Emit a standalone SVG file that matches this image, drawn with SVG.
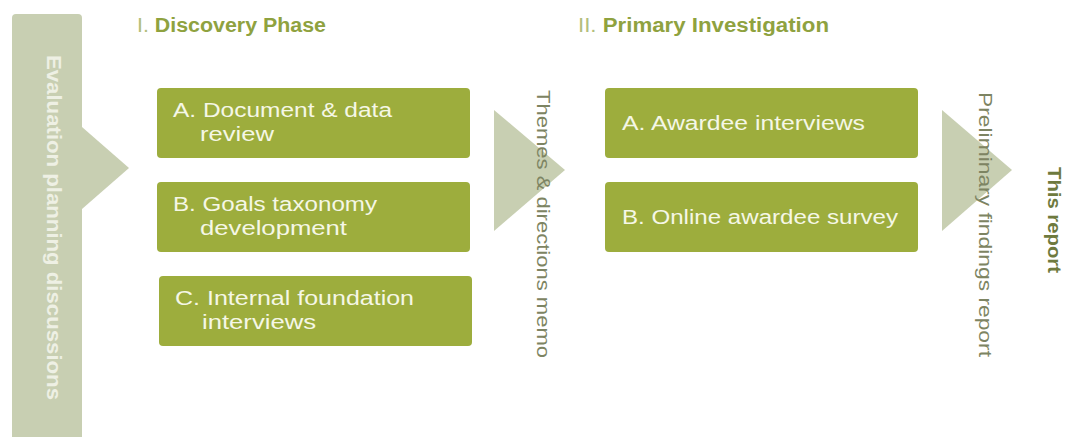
<svg xmlns="http://www.w3.org/2000/svg" width="1067" height="437" viewBox="0 0 1067 437">
<style>
.box{fill:#9DAD3D}
.bt{font-family:"Liberation Sans",Arial,sans-serif;font-size:20px;fill:#F5F7E6}
.tri{fill:#C8CFB2}
.bar{fill:#C8CFB2}
.vt{font-family:"Liberation Sans",Arial,sans-serif;font-size:19px;fill:#7D8462}
.ttl{font-family:"Liberation Sans",Arial,sans-serif;font-size:20px;font-weight:bold;fill:#8FA23F}
.num{font-weight:normal;fill:#B2BE7C}
</style>
<rect width="1067" height="437" fill="#FFFFFF"/>
<g id="planning">
<path class="bar" d="M12,18 Q12,14 16,14 L78,14 Q82,14 82,18 L82,437 L12,437 Z"/>
<text x="47" y="55" transform="rotate(90 47 55)" font-family="Liberation Sans, Arial, sans-serif" font-size="20" font-weight="bold" fill="#EEF0E4" textLength="345" lengthAdjust="spacingAndGlyphs">Evaluation planning discussions</text>
</g>
<g id="connectors">
<polygon class="tri" points="82,127 129,168 82,209"/>
<polygon class="tri" points="494,110 565,170 494,231"/>
<polygon class="tri" points="942,110 1012,170 942,231"/>
</g>
<g id="title1">
<text class="ttl" x="137" y="32" textLength="189" lengthAdjust="spacingAndGlyphs"><tspan class="num">I. </tspan>Discovery Phase</text>
</g>
<g id="title2">
<text class="ttl" x="578" y="32" textLength="251" lengthAdjust="spacingAndGlyphs"><tspan class="num">II. </tspan>Primary Investigation</text>
</g>
<g id="boxA1">
<rect class="box" x="157" y="88" width="313" height="70" rx="4"/>
<text class="bt" x="173" y="117" textLength="219" lengthAdjust="spacingAndGlyphs">A. Document &amp; data</text>
<text class="bt" x="200" y="141" textLength="74" lengthAdjust="spacingAndGlyphs">review</text>
</g>
<g id="boxB1">
<rect class="box" x="157" y="182" width="313" height="70" rx="4"/>
<text class="bt" x="173" y="211" textLength="204" lengthAdjust="spacingAndGlyphs">B. Goals taxonomy</text>
<text class="bt" x="200" y="235" textLength="147" lengthAdjust="spacingAndGlyphs">development</text>
</g>
<g id="boxC1">
<rect class="box" x="159" y="276" width="313" height="70" rx="4"/>
<text class="bt" x="175" y="305" textLength="239" lengthAdjust="spacingAndGlyphs">C. Internal foundation</text>
<text class="bt" x="202" y="329" textLength="114" lengthAdjust="spacingAndGlyphs">interviews</text>
</g>
<g id="memo">
<text class="vt" x="537" y="90" transform="rotate(90 537 90)" textLength="268" lengthAdjust="spacingAndGlyphs">Themes &amp; directions memo</text>
</g>
<g id="boxA2">
<rect class="box" x="605" y="88" width="313" height="70" rx="4"/>
<text class="bt" x="622" y="130" textLength="243" lengthAdjust="spacingAndGlyphs">A. Awardee interviews</text>
</g>
<g id="boxB2">
<rect class="box" x="605" y="182" width="313" height="70" rx="4"/>
<text class="bt" x="622" y="224" textLength="276" lengthAdjust="spacingAndGlyphs">B. Online awardee survey</text>
</g>
<g id="prelim">
<text class="vt" x="979" y="92" transform="rotate(90 979 92)" textLength="265" lengthAdjust="spacingAndGlyphs">Preliminary findings report</text>
</g>
<g id="thisreport">
<text x="1048" y="167" transform="rotate(90 1048 167)" font-family="Liberation Sans, Arial, sans-serif" font-size="19" font-weight="bold" fill="#6E7A3E" textLength="106" lengthAdjust="spacingAndGlyphs">This report</text>
</g>
</svg>
